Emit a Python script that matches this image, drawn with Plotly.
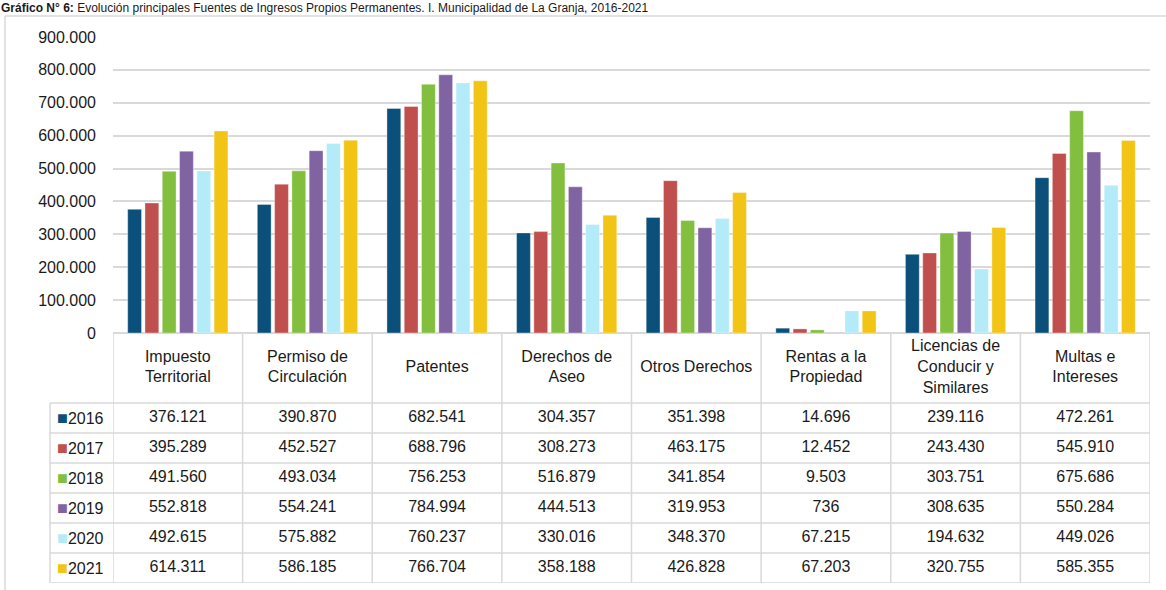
import plotly.graph_objects as go

categories = [
    "Impuesto Territorial", "Permiso de Circulación", "Patentes", "Derechos de Aseo",
    "Otros Derechos", "Rentas a la Propiedad", "Licencias de Conducir y Similares",
    "Multas e Intereses",
]
header_labels = [
    "Impuesto<br>Territorial", "Permiso de<br>Circulación", "Patentes", "Derechos de<br>Aseo",
    "Otros Derechos", "Rentas a la<br>Propiedad", "Licencias de<br>Conducir y<br>Similares",
    "Multas e<br>Intereses",
]
years = ["2016", "2017", "2018", "2019", "2020", "2021"]
v2016 = [376121, 390870, 682541, 304357, 351398, 14696, 239116, 472261]
v2017 = [395289, 452527, 688796, 308273, 463175, 12452, 243430, 545910]
v2018 = [491560, 493034, 756253, 516879, 341854, 9503, 303751, 675686]
v2019 = [552818, 554241, 784994, 444513, 319953, 736, 308635, 550284]
v2020 = [492615, 575882, 760237, 330016, 348370, 67215, 194632, 449026]
v2021 = [614311, 586185, 766704, 358188, 426828, 67203, 320755, 585355]
series = [v2016, v2017, v2018, v2019, v2020, v2021]
colors = ["#0b4f7b", "#c0504d", "#82bf3f", "#8064a2", "#b3ebf9", "#f2c415"]

title_bold = "Gráfico N° 6:"
title_rest = " Evolución principales Fuentes de Ingresos Propios Permanentes. I. Municipalidad de La Granja, 2016-2021"

# pixel geometry (figure is a bit taller than the window, bottom edge gets cropped)
W, H = 1166, 605
ML, MR, MT, MB = 113, 16, 37, 22
PW, PH = W - ML - MR, H - MT - MB
bar_px = 296
split = 1 - bar_px / PH
header_rows = 70 / 30
n_rows = len(years)
y2_top = n_rows + header_rows


def px_x(p):
    return (p - ML) / PW


def px_y(p):
    return 1 - (p - MT) / PH


def fmt(v):
    return f"{v:,}".replace(",", ".")


FONT = "Liberation Sans, Arial, sans-serif"
GRID = "#d9d9d9"

fig = go.Figure()

for yr, vals, c in zip(years, series, colors):
    fig.add_trace(go.Bar(
        x=categories, y=vals, name=yr, marker_color=c,
        marker_line=dict(width=0.6, color="rgba(255,255,255,0.6)"),
        xaxis="x", yaxis="y", showlegend=False,
    ))

# table text
tx, ty, tt = [], [], []
for i, (yr, vals) in enumerate(zip(years, series)):
    for cat, v in zip(categories, vals):
        tx.append(cat)
        ty.append(n_rows - i - 0.5)
        tt.append(fmt(v))
for cat, lab in zip(categories, header_labels):
    tx.append(cat)
    ty.append(n_rows + header_rows / 2)
    tt.append(lab)

fig.add_trace(go.Scatter(
    x=tx, y=ty, text=tt, mode="text", xaxis="x2", yaxis="y2",
    textfont=dict(family=FONT, size=16, color="#1a1a1a"),
    showlegend=False, hoverinfo="skip",
))

shapes = []
# horizontal table lines
for k in range(n_rows + 1):
    shapes.append(dict(type="line", xref="paper", yref="y2", x0=px_x(50), x1=1,
                       y0=k, y1=k, line=dict(color=GRID, width=1.5)))
# vertical table lines
for k in range(len(categories) + 1):
    shapes.append(dict(type="line", xref="x2", yref="y2", x0=k - 0.5, x1=k - 0.5,
                       y0=0, y1=y2_top, line=dict(color=GRID, width=1.5)))
shapes.append(dict(type="line", xref="paper", yref="y2", x0=px_x(50), x1=px_x(50),
                   y0=0, y1=n_rows, line=dict(color=GRID, width=1.5)))
# outer frame
shapes.append(dict(type="line", xref="paper", yref="paper", x0=px_x(5), x1=px_x(5),
                   y0=px_y(H + 5), y1=px_y(16), line=dict(color=GRID, width=1.5)))
shapes.append(dict(type="line", xref="paper", yref="paper", x0=px_x(5), x1=px_x(W + 5),
                   y0=px_y(16), y1=px_y(16), line=dict(color=GRID, width=1.5)))

annotations = []
for i, (yr, c) in enumerate(zip(years, colors)):
    annotations.append(dict(
        xref="paper", yref="y2", x=px_x(55), y=n_rows - i - 0.5,
        xanchor="left", yanchor="middle", showarrow=False,
        text=f"<span style='color:{c};font-size:18px'>■</span>{yr}",
        font=dict(family=FONT, size=16, color="#1a1a1a"),
    ))
annotations.append(dict(
    xref="paper", yref="paper", x=px_x(0), y=px_y(0), xanchor="left", yanchor="top",
    borderpad=0, showarrow=False, text=f"<b>{title_bold}</b>{title_rest}",
    font=dict(family=FONT, size=12, color="#1a1a1a"),
))

fig.update_layout(
    width=W, height=H,
    margin=dict(l=ML, r=MR, t=MT, b=MB),
    paper_bgcolor="white", plot_bgcolor="white",
    barmode="group", bargap=0.2, bargroupgap=0.2,
    separators=",.",
    font=dict(family=FONT, size=16, color="#1a1a1a"),
    xaxis=dict(domain=[0, 1], showticklabels=False, showline=False, showgrid=False,
               anchor="y", range=[-0.5, len(categories) - 0.5]),
    yaxis=dict(domain=[split, 1], range=[0, 900000], dtick=100000, tickformat=",.0f",
               showgrid=True, gridcolor=GRID, gridwidth=1.5, zeroline=True,
               zerolinecolor=GRID, zerolinewidth=1.5, ticks="", ticklabelstandoff=16,
               tickfont=dict(family=FONT, size=16, color="#1a1a1a"), anchor="x"),
    xaxis2=dict(domain=[0, 1], matches="x", showticklabels=False, showgrid=False,
                zeroline=False, showline=False, anchor="y2"),
    yaxis2=dict(domain=[0, split], range=[0, y2_top], showticklabels=False, showgrid=False,
                zeroline=False, showline=False, anchor="x2"),
    shapes=shapes,
    annotations=annotations,
)

fig.write_html(
    "out.html",
    config={"displayModeBar": False},
    post_script="document.body.style.margin='0px';",
)
